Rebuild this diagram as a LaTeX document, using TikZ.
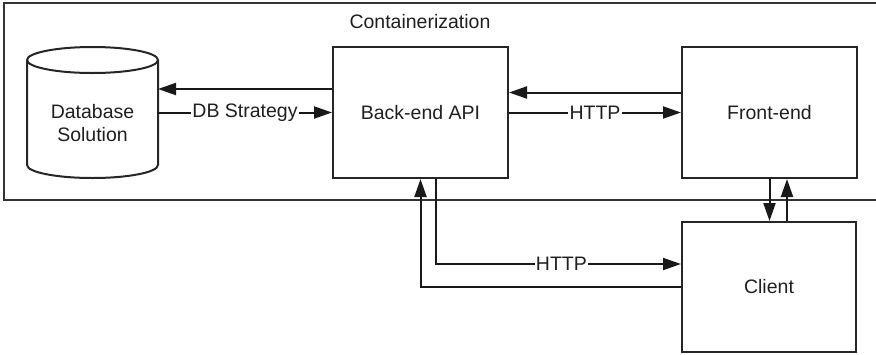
\documentclass[tikz,border=0pt]{standalone}
\usepackage{fontspec}
\setmainfont{Liberation Sans}
\usetikzlibrary{arrows.meta}
\begin{document}
\begin{tikzpicture}[x=1pt,y=-1pt,line width=2pt,
  every node/.style={text=black!88},
  box/.style={draw=black!85, minimum width=175pt, minimum height=131pt, inner sep=0pt},
  conn/.style={draw=black!90, -{Triangle[length=18pt,width=12pt]}},
  lbl/.style={fill=white, inner sep=1.2pt},
  font=\fontsize{19.5}{23}\selectfont]
\useasboundingbox (0,0) rectangle (876,354);
\draw[draw=black!80] (4,3) rectangle (884,200);
\node (cont) at (420,22) {Containerization};
% database cylinder
\node (db) [minimum width=131pt, minimum height=131pt, inner sep=0pt, align=center] at (92.5,123) {Database\\Solution};
\draw[black!85] (27,60) -- (27,165) arc[start angle=180,end angle=360,x radius=65.5pt,y radius=13pt] -- (158,60);
\draw[black!85] (92.5,60) ellipse[x radius=65.5pt,y radius=13pt];
\node[box] (back) at (420.5,112.5) {Back-end API};
\node[box] (front) at (769.5,112.5) {Front-end};
\node[box, minimum width=174pt, minimum height=130pt] (client) at (769,287) {Client};
% connectors
\coordinate (b1) at (back.west |- 0,89);
\coordinate (d1) at (158,89);
\draw[conn] (b1) -- (d1);
\coordinate (d2) at (158,112.5);
\draw[conn] (d2) -- node[lbl]{DB Strategy} (back.west);
\coordinate (f1) at ([yshift=20pt]front.west);
\coordinate (b2) at ([yshift=20pt]back.east);
\draw[conn] (f1) -- (b2);
\draw[conn] (back.east) -- node[lbl]{HTTP} (front.west);
\draw[conn] (front.south) -- (front.south |- client.north);
\coordinate (c1) at ([xshift=18pt]client.north);
\draw[conn] (c1) -- (c1 |- front.south);
\coordinate (bc1) at ([xshift=15.5pt]back.south);
\coordinate (cw1) at ([yshift=23pt]client.west);
\draw[conn] (bc1) |- node[lbl,pos=0.756]{HTTP} (cw1);
\draw[conn] (client.west) -| (back.south);
\end{tikzpicture}
\end{document}
